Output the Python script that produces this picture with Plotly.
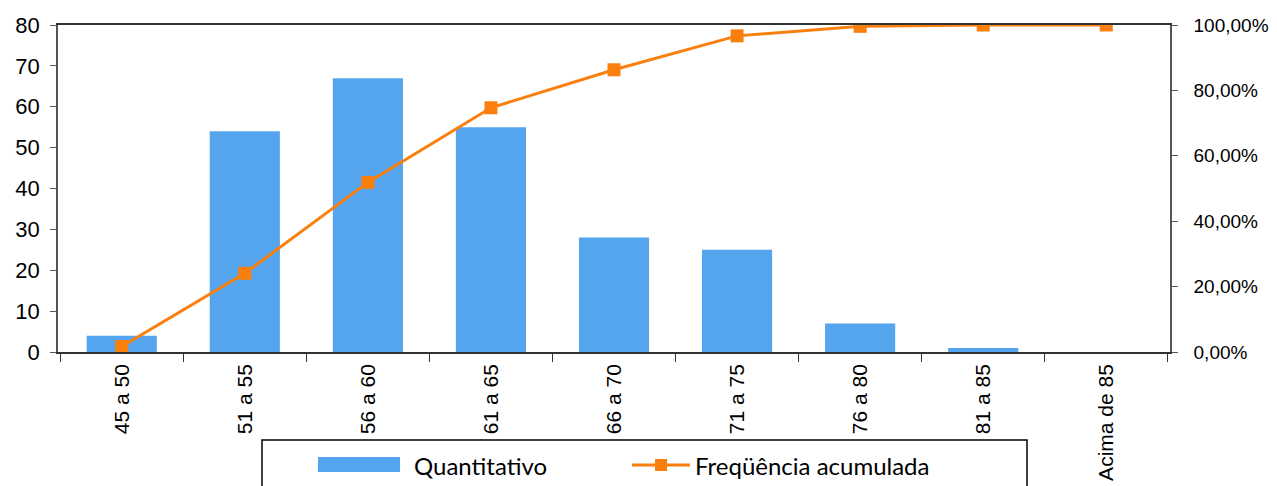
import plotly.graph_objects as go

categories = ["45 a 50", "51 a 55", "56 a 60", "61 a 65", "66 a 70",
              "71 a 75", "76 a 80", "81 a 85", "Acima de 85"]
quantitativo = [4, 54, 67, 55, 28, 25, 7, 1, 0]
freq_acumulada = [0.0166, 0.2407, 0.5187, 0.7469, 0.8631, 0.9668, 0.9959, 1.0, 1.0]

left_ticks = [0, 10, 20, 30, 40, 50, 60, 70, 80]
right_ticks = [0, 0.2, 0.4, 0.6, 0.8, 1.0]

series_names = ["Quantitativo", "Freqüência acumulada"]

BLUE = "#55A4EE"
ORANGE = "#FA7F0C"
FONT = "'Liberation Sans', Arial, sans-serif"
LEGEND_FONT = "Lato, Carlito, Calibri, sans-serif"

# the page body has an 8px margin, so the figure is offset by 8px
OFF = 8
W, H = 1277 - OFF, 486 - OFF
ML, MR, MT, MB = 58 - OFF, 107, 25 - OFF, 134
PW, PH = W - ML - MR, H - MT - MB


def px(x):
    return (x - OFF - ML) / PW


def py(y):
    return (H - MB - (y - OFF)) / PH


fig = go.Figure()
fig.add_trace(go.Bar(
    x=categories, y=quantitativo, name=series_names[0],
    marker=dict(color=BLUE, line=dict(width=0)),
    yaxis="y",
))
fig.add_trace(go.Scatter(
    x=categories, y=freq_acumulada, name=series_names[1],
    mode="lines+markers",
    line=dict(color=ORANGE, width=3),
    marker=dict(symbol="square", size=13, color=ORANGE),
    yaxis="y2",
))

# legend drawn as a box with patches and text below the plot
shapes = [
    dict(type="rect", xref="paper", yref="paper",
         x0=px(262), x1=px(1027), y0=py(520), y1=py(440),
         line=dict(color="black", width=1.5), fillcolor="white", layer="above"),
    dict(type="rect", xref="paper", yref="paper",
         x0=px(318), x1=px(400), y0=py(472), y1=py(457),
         line=dict(width=0), fillcolor=BLUE, layer="above"),
    dict(type="line", xref="paper", yref="paper",
         x0=px(632), x1=px(690), y0=py(465), y1=py(465),
         line=dict(color=ORANGE, width=3), layer="above"),
    dict(type="rect", xref="paper", yref="paper",
         x0=px(655), x1=px(667), y0=py(471), y1=py(459),
         line=dict(width=0), fillcolor=ORANGE, layer="above"),
]
annotations = [
    dict(xref="paper", yref="paper", x=px(412), y=py(465),
         xanchor="left", yanchor="middle", showarrow=False,
         text=series_names[0], font=dict(size=24, family=LEGEND_FONT, color="black")),
    dict(xref="paper", yref="paper", x=px(693), y=py(465),
         xanchor="left", yanchor="middle", showarrow=False,
         text=series_names[1], font=dict(size=24, family=LEGEND_FONT, color="black")),
]

fig.update_layout(
    width=W, height=H,
    margin=dict(l=ML, r=MR, t=MT, b=MB, autoexpand=False),
    paper_bgcolor="white", plot_bgcolor="white",
    separators=",.",
    bargap=0.43,
    showlegend=False,
    font=dict(family=FONT, color="black"),
    shapes=shapes,
    annotations=annotations,
    xaxis=dict(
        type="category",
        showline=True, linecolor="#333", linewidth=1.5,
        mirror=True,
        ticks="outside", ticklen=8, tickcolor="#333", tickwidth=1,
        tickson="boundaries",
        tickangle=-90,
        tickfont=dict(size=21, family=FONT),
        ticklabelstandoff=2,
        showgrid=False,
        automargin=False,
    ),
    yaxis=dict(
        range=[0, 80], tickvals=left_ticks,
        showline=True, linecolor="#555", linewidth=1.5,
        ticks="outside", ticklen=6, tickcolor="#555",
        tickfont=dict(size=22, family=FONT),
        ticklabelstandoff=6,
        showgrid=False, zeroline=False,
        automargin=False,
    ),
    yaxis2=dict(
        overlaying="y", side="right",
        range=[0, 1.0], tickvals=right_ticks, tickformat=".2%",
        showline=True, linecolor="#555", linewidth=1.5,
        ticks="outside", ticklen=6, tickcolor="#555",
        tickfont=dict(size=19, family=FONT),
        ticklabelstandoff=12,
        showgrid=False, zeroline=False,
        automargin=False,
    ),
)

fig.write_html("out.html")
